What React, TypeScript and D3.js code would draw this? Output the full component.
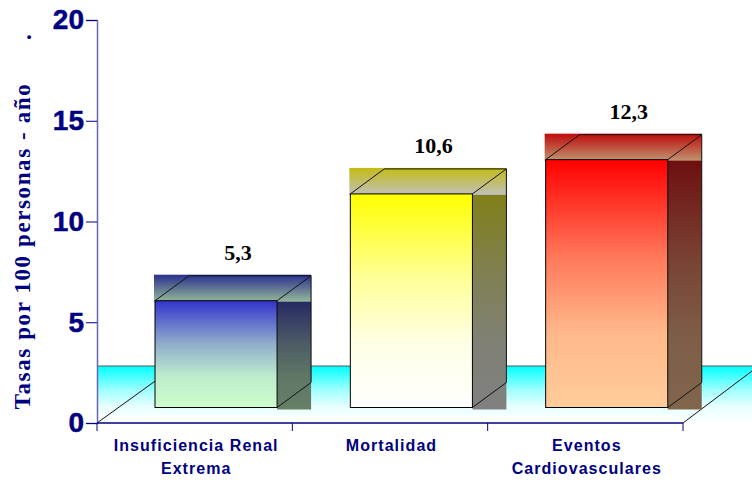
import React, { useEffect, useRef } from 'react';
import * as d3 from 'd3';

const categories = ['Insuficiencia Renal|Extrema', 'Mortalidad', 'Eventos|Cardiovasculares'];
const values = [5.3, 10.6, 12.3];
const valueLabels = ['5,3', '10,6', '12,3'];
const yTicks = [0, 5, 10, 15, 20];
// front, top and side face gradients: [start, end]
const frontColors = [['#3333cc', '#ccffcc'], ['#ffff00', '#ffffff'], ['#ff0000', '#ffcc99']];
const topColors = [['#29308f', '#99bd99'], ['#c4bc14', '#c0c0c0'], ['#bf0a0a', '#bf9973']];
const sideColors = [['#272a63', '#667f66'], ['#80801a', '#808080'], ['#6e0f0f', '#80664d']];
// the fills ease out: most of the colour change happens in the upper part
const easedStops = [[0, 0], [0.4, 0.6], [0.7, 0.9], [1, 1]];
const linearStops = [[0, 0], [1, 1]];

const width = 752;
const height = 480;
const axisLeft = 97;
const axisRight = 683;
const axisBottom = 423;
const axisTop = 20;
const depthX = 34;
const depthY = 25;
const frontLift = 15.5; // the bars' front face stands above the axis line
const wallY = 366;

const App = () => {
  const svgRef = useRef<SVGSVGElement>(null);

  useEffect(() => {
    const svg = d3.select(svgRef.current);
    svg.selectAll('*').remove();

    const xScale = d3.scaleBand().domain(categories).range([axisLeft, axisRight]);
    const yScale = d3.scaleLinear().domain([0, 20]).range([axisBottom, axisTop]);
    const barWidth = xScale.bandwidth() * 0.625;
    const barOffset = xScale.bandwidth() * 0.3 - 0.6;

    const defs = svg.append('defs');
    const addGradient = (id: string, from: string, to: string, stops: number[][]) => {
      const mix = d3.interpolateRgb(from, to);
      const g = defs.append('linearGradient').attr('id', id).attr('x1', 0).attr('y1', 0).attr('x2', 0).attr('y2', 1);
      stops.forEach(([offset, t]) => {
        g.append('stop').attr('offset', offset).attr('stop-color', mix(t));
      });
    };
    addGradient('floor', '#00ffff', '#ffffff', easedStops);
    categories.forEach((_, i) => {
      addGradient(`front${i}`, frontColors[i][0], frontColors[i][1], easedStops);
      addGradient(`top${i}`, topColors[i][0], topColors[i][1], linearStops);
      addGradient(`side${i}`, sideColors[i][0], sideColors[i][1], easedStops);
    });

    // floor gradient and its outline
    svg.append('rect')
      .attr('x', axisLeft).attr('y', wallY)
      .attr('width', width - axisLeft).attr('height', axisBottom - wallY)
      .attr('fill', 'url(#floor)');
    svg.append('line')
      .attr('x1', axisLeft).attr('x2', width).attr('y1', wallY).attr('y2', wallY)
      .attr('stroke', '#555').attr('stroke-width', 1);
    svg.append('line')
      .attr('x1', axisLeft).attr('y1', axisBottom).attr('x2', axisLeft + 79).attr('y2', wallY)
      .attr('stroke', '#111');
    svg.append('line')
      .attr('x1', axisRight).attr('y1', axisBottom).attr('x2', width).attr('y2', 371)
      .attr('stroke', '#111');

    // bars
    const bars = svg.selectAll('g.bar').data(categories).enter().append('g').attr('class', 'bar');
    bars.each(function (c, i) {
      const g = d3.select(this);
      const x0 = (xScale(c) as number) + barOffset;
      const x1 = x0 + barWidth;
      const yTop = yScale(values[i]) - frontLift;
      const yBase = yScale(0) - frontLift;

      // top and side gradients fill their whole bounding boxes, as in the original export
      g.append('rect').attr('x', x0 - 1).attr('y', yTop - depthY - 1)
        .attr('width', barWidth + depthX + 1).attr('height', depthY + 3)
        .attr('fill', `url(#top${i})`);
      g.append('rect').attr('x', x1).attr('y', yTop + 1)
        .attr('width', depthX).attr('height', yBase - yTop + 1)
        .attr('fill', `url(#side${i})`);
      g.append('rect').attr('x', x0).attr('y', yTop)
        .attr('width', barWidth).attr('height', yBase - yTop)
        .attr('fill', `url(#front${i})`).attr('stroke', '#000').attr('stroke-width', 1);

      const outline = d3.path();
      outline.moveTo(x0, yTop);
      outline.lineTo(x0 + depthX, yTop - depthY);
      outline.lineTo(x1 + depthX, yTop - depthY);
      outline.lineTo(x1, yTop);
      outline.moveTo(x1 + depthX, yTop - depthY);
      outline.lineTo(x1 + depthX, yBase - depthY);
      outline.lineTo(x1, yBase);
      g.append('path').attr('d', outline.toString()).attr('fill', 'none').attr('stroke', '#111').attr('stroke-width', 1);

      g.append('text')
        .attr('x', x0 + barWidth / 2 + 22)
        .attr('y', yTop - 41)
        .attr('text-anchor', 'middle')
        .attr('font-family', '"Liberation Serif", serif')
        .attr('font-weight', 'bold')
        .attr('font-size', 22)
        .attr('fill', '#000')
        .text(valueLabels[i]);
    });

    // y axis
    const yAxis = svg.append('g')
      .attr('transform', `translate(${axisLeft},0)`)
      .call(d3.axisLeft(yScale).tickValues(yTicks).tickSize(11).tickPadding(2));
    yAxis.select('.domain').attr('stroke', '#6666b3').attr('stroke-width', 1.5);
    yAxis.selectAll('.tick line').attr('stroke', '#000080').attr('stroke-width', 1);
    yAxis.selectAll('.tick text')
      .attr('font-family', '"Liberation Sans", Arial, sans-serif')
      .attr('font-weight', 'bold')
      .attr('font-size', 28)
      .attr('fill', '#000080')
      .attr('stroke', '#000080')
      .attr('stroke-width', 0.5);

    // x axis
    const xAxisG = svg.append('g').attr('transform', `translate(0,${axisBottom})`);
    xAxisG.append('line')
      .attr('x1', axisLeft).attr('x2', axisRight)
      .attr('stroke', '#000080').attr('stroke-width', 1.5);
    const edges = [...categories.map((c) => xScale(c) as number), axisRight];
    xAxisG.selectAll('line.tick').data(edges).enter().append('line')
      .attr('class', 'tick')
      .attr('x1', (d) => d).attr('x2', (d) => d)
      .attr('y1', 0).attr('y2', 8)
      .attr('stroke', '#000080');

    const labels = svg.selectAll('text.cat').data(categories).enter().append('text')
      .attr('class', 'cat')
      .attr('text-anchor', 'middle')
      .attr('font-family', '"Liberation Sans", Arial, sans-serif')
      .attr('font-weight', 'bold')
      .attr('font-size', 16)
      .attr('letter-spacing', 1.05)
      .attr('fill', '#000080');
    labels.each(function (c) {
      const cx = (xScale(c) as number) + xScale.bandwidth() / 2 + 1.5;
      c.split('|').forEach((line, k) => {
        d3.select(this).append('tspan').attr('x', cx).attr('y', 450.5 + k * 23).text(line);
      });
    });

    // y axis title
    svg.append('text')
      .attr('transform', 'translate(30,246) rotate(-90)')
      .attr('text-anchor', 'middle')
      .attr('font-family', '"Liberation Serif", serif')
      .attr('font-weight', 'bold')
      .attr('font-size', 23)
      .attr('letter-spacing', 1.6)
      .attr('fill', '#000080')
      .text('Tasas por 100 personas - año');
    svg.append('text')
      .attr('transform', 'translate(31,40) rotate(-90)')
      .attr('font-family', '"Liberation Serif", serif')
      .attr('font-weight', 'bold')
      .attr('font-size', 23)
      .attr('fill', '#000080')
      .text('.');
  }, []);

  return (
    <svg
      ref={svgRef}
      width={width}
      height={height}
      style={{ position: 'absolute', left: 0, top: 0, background: '#fff' }}
    />
  );
};

export default App;
